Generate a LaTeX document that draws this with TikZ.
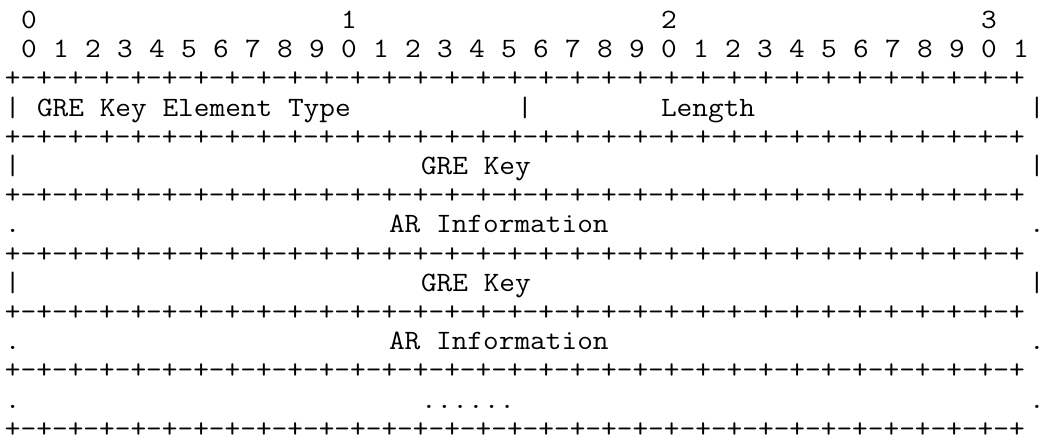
\documentclass[tikz,border=0pt]{standalone}
\usepackage{fontspec}
\newfontfamily\monof[FakeStretch=1.088]{Latin Modern Mono}
\newcommand\cell[4]{\node[txt] (#1) at ({5+16*#2},{412.4-29.2*#3}) {#4};}
\newcommand\rulestr{+-+-+-+-+-+-+-+-+-+-+-+-+-+-+-+-+-+-+-+-+-+-+-+-+-+-+-+-+-+-+-+-+}
\begin{document}
\begin{tikzpicture}[x=1pt,y=1pt,
  txt/.style={anchor=base west, inner sep=0pt, outer sep=0pt, text=black,
    font=\monof\fontsize{28}{29}\selectfont}]
\useasboundingbox (0,0) rectangle (1050,441);
\fill[white] (0,0) rectangle (1050,441);
% row 0: tens
\cell{t0}{1}{0}{0}
\cell{t1}{21}{0}{1}
\cell{t2}{41}{0}{2}
\cell{t3}{61}{0}{3}
% row 1: bit numbers
\foreach \i in {0,...,31}{
  \pgfmathtruncatemacro\dg{mod(\i,10)}
  \node[txt] (b\i) at ({5+16*(1+2*\i)},{412.4-29.2*1}) {\dg};
}
% rules
\cell{r2}{0}{2}{\rulestr}
\cell{r4}{0}{4}{\rulestr}
\cell{r6}{0}{6}{\rulestr}
\cell{r8}{0}{8}{\rulestr}
\cell{r10}{0}{10}{\rulestr}
\cell{r12}{0}{12}{\rulestr}
\cell{r14}{0}{14}{\rulestr}
% row 3
\cell{p3a}{0}{3}{|}
\cell{type}{2}{3}{GRE Key Element Type}
\cell{p3b}{32}{3}{|}
\cell{len}{41}{3}{Length}
\cell{p3c}{64}{3}{|}
% row 5
\cell{p5a}{0}{5}{|}
\cell{key1}{26}{5}{GRE Key}
\cell{p5b}{64}{5}{|}
% row 7
\cell{d7a}{0}{7}{.}
\cell{ar1}{24}{7}{AR Information}
\cell{d7b}{64}{7}{.}
% row 9
\cell{p9a}{0}{9}{|}
\cell{key2}{26}{9}{GRE Key}
\cell{p9b}{64}{9}{|}
% row 11
\cell{d11a}{0}{11}{.}
\cell{ar2}{24}{11}{AR Information}
\cell{d11b}{64}{11}{.}
% row 13
\cell{d13a}{0}{13}{.}
\cell{more}{26}{13}{......}
\cell{d13b}{64}{13}{.}
\end{tikzpicture}
\end{document}
